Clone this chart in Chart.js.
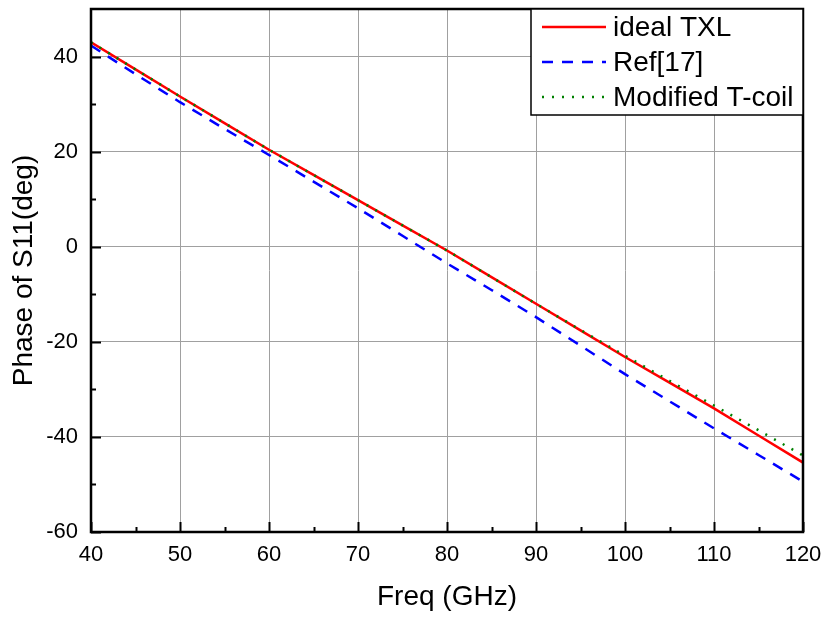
<!DOCTYPE html>
<html>
<head>
<meta charset="utf-8">
<script src="https://cdn.jsdelivr.net/npm/chart.js@4"></script>
<style>
  html, body { margin: 0; padding: 0; background: #fff; }
  #wrap { width: 825px; height: 619px; }
</style>
</head>
<body>
<div id="wrap"><canvas id="phaseChart"></canvas></div>
<script>
// frequency points (GHz)
const freq = [40, 45, 50, 55, 60, 65, 70, 75, 80, 85, 90, 95, 100, 105, 110, 115, 120];

// phase of S11 (deg)
const idealTXL = [43.0, 37.3, 31.6, 26.0, 20.4, 15.1, 9.8, 4.5, -0.8, -6.4, -12.0, -17.6, -23.2, -28.6, -34.0, -39.7, -45.4];
const ref17 = [42.3, 36.3, 30.4, 24.8, 19.3, 13.7, 8.1, 2.3, -3.5, -9.1, -14.8, -20.8, -26.8, -32.5, -38.2, -43.8, -49.4];
const modTcoil = [43.0, 37.3, 31.6, 26.0, 20.4, 15.1, 9.8, 4.5, -0.8, -6.4, -12.0, -17.5, -22.9, -28.2, -33.4, -38.6, -43.9];

const seriesNames = ['ideal TXL', 'Ref[17]', 'Modified T-coil'];

const xMin = 40, xMax = 120, xMajor = 10;
const yMin = -60, yMax = 50, yMajor = 20;

const FONT = '"Liberation Sans", Arial, sans-serif';

function toXY(ys) {
    return freq.map((f, i) => ({ x: f, y: ys[i] }));
}

// frame, inward ticks and the legend box (Origin style)
const originStyle = {
    id: 'originStyle',
    afterDatasetsDraw(chart) {
        const ctx = chart.ctx;
        const a = chart.chartArea;
        const xs = chart.scales.x, ys = chart.scales.y;
        ctx.save();
        ctx.strokeStyle = '#000';
        ctx.lineWidth = 2;
        ctx.beginPath();
        // major every 10 / 20, minor in between
        for (let v = xMin; v <= xMax; v += xMajor / 2) {
            const px = Math.round(xs.getPixelForValue(v)) + 0.5;
            const len = (v % xMajor === 0) ? 10 : 5;
            ctx.moveTo(px, a.bottom);
            ctx.lineTo(px, a.bottom - len);
        }
        for (let v = yMin; v <= 40; v += yMajor / 2) {
            const py = Math.round(ys.getPixelForValue(v)) + 0.5;
            const len = (v % yMajor === 0) ? 10 : 5;
            ctx.moveTo(a.left, py);
            ctx.lineTo(a.left + len, py);
        }
        ctx.stroke();
        ctx.lineWidth = 2.5;
        ctx.strokeRect(a.left, a.top, a.right - a.left, a.bottom - a.top);

        // legend box in the top right corner
        const bx = 531, by = a.top, bw = a.right - bx, bh = 106;
        ctx.fillStyle = '#fff';
        ctx.fillRect(bx, by, bw, bh);
        ctx.lineWidth = 1.5;
        ctx.strokeRect(bx, by, bw, bh);
        ctx.textBaseline = 'middle';
        ctx.font = '28px ' + FONT;
        [0, 1, 2].forEach((i) => {
            const ds = chart.data.datasets[i];
            const cy = by + 18 + i * 35;
            ctx.beginPath();
            ctx.strokeStyle = ds.borderColor;
            ctx.lineWidth = ds.borderWidth;
            ctx.setLineDash(ds.borderDash || []);
            ctx.moveTo(542, cy);
            ctx.lineTo(606, cy);
            ctx.stroke();
            ctx.setLineDash([]);
            ctx.fillStyle = '#000';
            ctx.fillText(ds.label, 613, cy + 1);
        });
        ctx.restore();
    }
};

new Chart('phaseChart', {
    type: 'line',
    data: {
        datasets: [{
            label: seriesNames[0],
            data: toXY(idealTXL),
            borderColor: '#ff0000',
            borderWidth: 2.5,
            pointRadius: 0,
            order: 1,
        }, {
            label: seriesNames[1],
            data: toXY(ref17),
            borderColor: '#0000ff',
            borderWidth: 2.5,
            borderDash: [11, 9],
            pointRadius: 0,
            order: 2,
        }, {
            label: seriesNames[2],
            data: toXY(modTcoil),
            borderColor: '#008000',
            borderWidth: 2.5,
            borderDash: [2, 8],
            pointRadius: 0,
            order: 0,
        }]
    },
    options: {
        responsive: true,
        maintainAspectRatio: false,
        animation: false,
        layout: { padding: { top: 9, right: 22, left: 0, bottom: 0 } },
        scales: {
            x: {
                type: 'linear',
                min: xMin,
                max: xMax,
                afterFit: (s) => { s.height = 87; s.paddingLeft = 0; s.paddingRight = 0; },
                ticks: {
                    stepSize: xMajor,
                    color: '#000',
                    padding: 10,
                    font: { family: FONT, size: 22 },
                },
                grid: { color: '#a0a0a0', lineWidth: 1, drawTicks: false },
                border: { display: false },
                title: {
                    display: true,
                    text: 'Freq (GHz)',
                    color: '#000',
                    padding: { top: 0, bottom: 5 },
                    font: { family: FONT, size: 28 },
                },
            },
            y: {
                min: yMin,
                max: yMax,
                afterFit: (s) => { s.width = 91; s.paddingTop = 0; s.paddingBottom = 0; },
                ticks: {
                    stepSize: yMajor,
                    color: '#000',
                    padding: 13,
                    font: { family: FONT, size: 22 },
                    callback: (v) => (v % yMajor === 0 && v <= 40) ? v : '',
                },
                grid: {
                    color: (c) => (c.tick && c.tick.value > 40) ? 'rgba(0,0,0,0)' : '#a0a0a0',
                    lineWidth: 1,
                    drawTicks: false,
                },
                border: { display: false },
                title: {
                    display: true,
                    text: 'Phase of S11(deg)',
                    color: '#000',
                    padding: { top: 7, bottom: 0 },
                    font: { family: FONT, size: 28 },
                },
            }
        },
        plugins: {
            legend: { display: false },
            tooltip: { enabled: false },
        },
    },
    plugins: [originStyle],
});
</script>
</body>
</html>
